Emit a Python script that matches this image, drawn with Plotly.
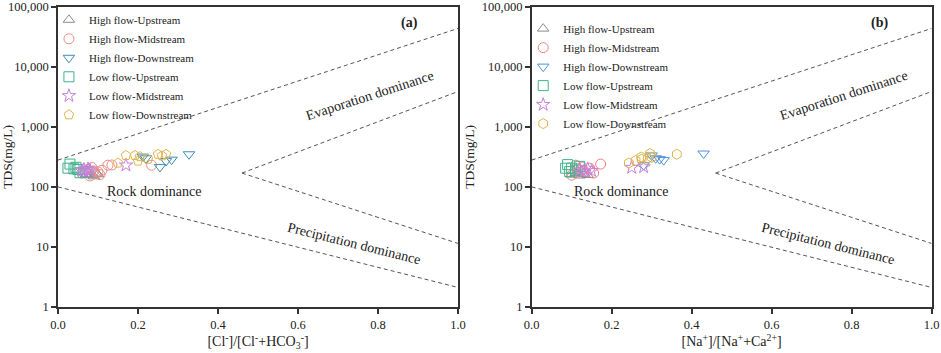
import plotly.graph_objects as go

# ---------------- data ----------------
series_names = ["High flow-Upstream", "High flow-Midstream", "High flow-Downstream",
                "Low flow-Upstream", "Low flow-Midstream", "Low flow-Downstream"]

# Panel (a): x = [Cl-]/[Cl- + HCO3-], y = TDS (mg/L)
a_hu_x = [0.07, 0.084, 0.097, 0.09, 0.075, 0.1]
a_hu_y = [160, 157, 167, 150, 178, 162]
a_hm_x = [0.06, 0.075, 0.085, 0.1, 0.11, 0.125, 0.135, 0.08, 0.105, 0.234, 0.09]
a_hm_y = [170, 195, 210, 178, 190, 230, 232, 152, 160, 230, 185]
a_hd_x = [0.2125, 0.22, 0.255, 0.27, 0.284, 0.3275]
a_hd_y = [320, 300, 215, 270, 285, 350]
a_lu_x = [0.03, 0.025, 0.045, 0.055, 0.05, 0.07, 0.04]
a_lu_y = [240, 205, 212, 172, 195, 180, 200]
a_lm_x = [0.06, 0.065, 0.07, 0.075, 0.08, 0.17]
a_lm_y = [185, 195, 178, 200, 190, 230]
a_ld_x = [0.15, 0.17, 0.1925, 0.2, 0.205, 0.225, 0.25, 0.27, 0.26]
a_ld_y = [250, 335, 335, 270, 320, 290, 350, 350, 330]

# Panel (b): x = [Na+]/[Na+ + Ca2+], y = TDS (mg/L)
b_hu_x = [0.1, 0.11, 0.12, 0.13, 0.115, 0.14]
b_hu_y = [160, 170, 155, 165, 180, 158]
b_hm_x = [0.1, 0.115, 0.13, 0.155, 0.1725, 0.125, 0.145, 0.11]
b_hm_y = [157, 200, 190, 170, 240, 215, 205, 230]
b_hd_x = [0.28, 0.30, 0.31, 0.32, 0.33, 0.43]
b_hd_y = [230, 335, 300, 290, 280, 360]
b_lu_x = [0.09, 0.1, 0.085, 0.11, 0.095, 0.12]
b_lu_y = [235, 205, 205, 190, 180, 220]
b_lm_x = [0.12, 0.13, 0.14, 0.15, 0.25, 0.28]
b_lm_y = [190, 180, 200, 185, 210, 215]
b_ld_x = [0.243, 0.26, 0.274, 0.275, 0.29, 0.296, 0.363, 0.30]
b_ld_y = [250, 275, 315, 290, 300, 360, 350, 310]

# Gibbs boundary lines (x, TDS)
outer_upper_x = [0.0, 1.0]
outer_upper_y = [280, 44000]
outer_lower_x = [0.0, 1.0]
outer_lower_y = [100, 2.1]
inner_upper_x = [0.46, 1.0]
inner_upper_y = [170, 3900]
inner_lower_x = [0.46, 1.0]
inner_lower_y = [170, 11.4]

y_tick_vals = [1, 10, 100, 1000, 10000, 100000]
y_tick_text = ["1", "10", "100", "1,000", "10,000", "100,000"]
x_tick_vals = [0.0, 0.2, 0.4, 0.6, 0.8, 1.0]

# ---------------- styling ----------------
FONT = "Liberation Serif"
colors_a = ["#8c8c8c", "#ec8c86", "#3a8fb8", "#3db38c", "#c680dc", "#e0b44e"]
colors_b = ["#8c8c8c", "#f07f80", "#4a90de", "#3db38c", "#c680dc", "#e0b44e"]
symbols_a = ["triangle-up-open", "circle-open", "triangle-down-open",
             "square-open", "star-open", "pentagon-open"]
symbols_b = ["triangle-up-open", "circle-open", "triangle-down-open",
             "square-open", "star-open", "hexagon-open"]

fig = go.Figure()

panel_a = [(a_hu_x, a_hu_y), (a_hm_x, a_hm_y), (a_hd_x, a_hd_y),
           (a_lu_x, a_lu_y), (a_lm_x, a_lm_y), (a_ld_x, a_ld_y)]
panel_b = [(b_hu_x, b_hu_y), (b_hm_x, b_hm_y), (b_hd_x, b_hd_y),
           (b_lu_x, b_lu_y), (b_lm_x, b_lm_y), (b_ld_x, b_ld_y)]

line_sets = [(outer_upper_x, outer_upper_y), (outer_lower_x, outer_lower_y),
             (inner_upper_x, inner_upper_y), (inner_lower_x, inner_lower_y)]

for xa, ya in [("x", "y"), ("x2", "y2")]:
    for lx, ly in line_sets:
        fig.add_trace(go.Scatter(x=lx, y=ly, mode="lines", xaxis=xa, yaxis=ya,
                                 line=dict(color="#555555", width=1, dash="4px,3px"),
                                 showlegend=False, hoverinfo="skip"))

for i, (xs, ys) in enumerate(panel_a):
    fig.add_trace(go.Scatter(x=xs, y=ys, mode="markers", name=series_names[i],
                             xaxis="x", yaxis="y", legend="legend",
                             marker=dict(symbol=symbols_a[i], size=10, color=colors_a[i],
                                         line=dict(width=1, color=colors_a[i]))))
for i, (xs, ys) in enumerate(panel_b):
    fig.add_trace(go.Scatter(x=xs, y=ys, mode="markers", name=series_names[i],
                             xaxis="x2", yaxis="y2", legend="legend2",
                             marker=dict(symbol=symbols_b[i], size=10, color=colors_b[i],
                                         line=dict(width=1, color=colors_b[i]))))

axis_common = dict(showline=True, linecolor="#333333", linewidth=1.5, mirror=True,
                   ticks="outside", ticklen=5, tickcolor="#333333", tickwidth=1.5,
                   showgrid=False, zeroline=False, automargin=False,
                   tickfont=dict(family=FONT, size=12.5, color="#222222"))

xa_common = dict(axis_common, range=[0, 1], tickvals=x_tick_vals, tickformat=".1f")
ya_common = dict(axis_common, type="log", range=[0, 5], tickvals=y_tick_vals,
                 ticktext=y_tick_text,
                 title=dict(text="TDS(mg/L)", font=dict(family=FONT, size=13.5, color="#222222"),
                            standoff=4))

fig.update_layout(
    width=941, height=353,
    margin=dict(l=0, r=0, t=0, b=0),
    paper_bgcolor="white", plot_bgcolor="white",
    font=dict(family=FONT, color="#222222"),
    xaxis=dict(xa_common, domain=[0.0616, 0.4867], anchor="y",
               title=dict(text="[Cl<sup>-</sup>]/[Cl<sup>-</sup>+HCO<sub>3</sub><sup>-</sup>]",
                          font=dict(family=FONT, size=14, color="#222222"), standoff=2)),
    yaxis=dict(ya_common, domain=[0.131, 0.980], anchor="x"),
    xaxis2=dict(xa_common, domain=[0.565, 0.990], anchor="y2",
                title=dict(text="[Na<sup>+</sup>]/[Na<sup>+</sup>+Ca<sup>2+</sup>]",
                           font=dict(family=FONT, size=14, color="#222222"), standoff=2)),
    yaxis2=dict(ya_common, domain=[0.131, 0.980], anchor="x2"),
    legend=dict(x=0.052, y=0.985, xanchor="left", yanchor="top",
                bgcolor="rgba(0,0,0,0)", font=dict(family=FONT, size=11, color="#222222"),
                itemclick=False),
    legend2=dict(x=0.556, y=0.96, xanchor="left", yanchor="top",
                 bgcolor="rgba(0,0,0,0)", font=dict(family=FONT, size=11, color="#222222"),
                 itemclick=False),
)

ann_font = dict(family=FONT, size=14, color="#222222")
for xr, yr, label, rx in [("x", "y", "(a)", 0.88), ("x2", "y2", "(b)", 0.87)]:
    fig.add_annotation(x=rx, y=4.73, xref=xr, yref=yr, text="<b>" + label + "</b>",
                       showarrow=False, font=dict(family=FONT, size=14, color="#222222"))
    fig.add_annotation(x=0.24 if xr == "x" else 0.2225, y=1.93, xref=xr, yref=yr,
                       text="Rock dominance", showarrow=False, font=ann_font)
    fig.add_annotation(x=0.78, y=3.53, xref=xr, yref=yr, text="Evaporation dominance",
                       showarrow=False, textangle=-18, font=ann_font)
    fig.add_annotation(x=0.74, y=1.06, xref=xr, yref=yr, text="Precipitation dominance",
                       showarrow=False, textangle=14, font=ann_font)

fig.write_html("out.html", config={"displayModeBar": False},
               post_script="document.body.style.margin='0px';document.body.style.overflow='hidden';")
